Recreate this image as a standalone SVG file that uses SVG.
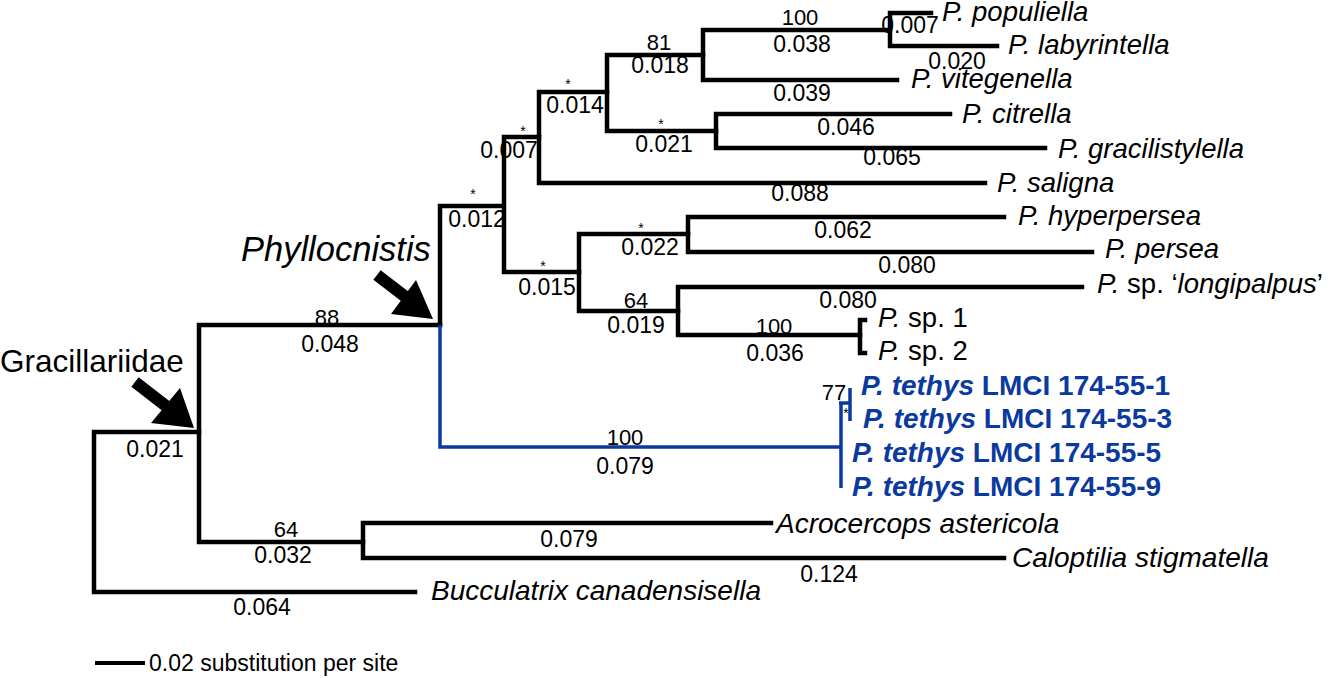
<svg xmlns="http://www.w3.org/2000/svg" width="1334" height="678" viewBox="0 0 1334 678">
<style>
text{font-family:"Liberation Sans",Arial,sans-serif;fill:#000}
.br{fill:none;stroke:#000;stroke-width:4.5;stroke-linejoin:miter;stroke-linecap:square}
.bb{fill:none;stroke:#0a3aa0;stroke-width:3.5;stroke-linecap:butt}
.sp{font-size:27.5px;font-style:italic}
.sb{font-size:28px;font-style:italic}
.n{font-style:normal}
.tt{font-size:28px;font-weight:bold;fill:#0a3aa0}
.tt tspan{fill:#0a3aa0}
.bl{font-size:23px;text-anchor:middle}
.su{font-size:22px;text-anchor:middle}
.st{font-size:14px;text-anchor:middle}
</style>
<g id="connectors">
<path class="br" d="M199 432 H94 V592 H415"/>
<path class="br" d="M440 325 H199 V542 H363"/>
<path class="br" d="M771 523 H363 V558 H1004"/>
<path class="br" d="M503 206 H440 V325"/>
<path class="bb" d="M440 325 V447 H841"/>
<path class="br" d="M539 137 H504 V272 H579"/>
<path class="br" d="M607 92 H539 V183 H985"/>
<path class="br" d="M703 55 H607 V131 H716"/>
<path class="br" d="M890 30 H703 V80 H897"/>
<path class="br" d="M931 13 H890 V46 H997"/>
<path class="br" d="M950 114 H716 V148 H1045"/>
<path class="br" d="M688 234 H579 V311 H678"/>
<path class="br" d="M1004 217 H688 V252 H1092"/>
<path class="br" d="M1082 287 H678 V335 H860"/>
<path class="br" d="M865 320 H860 V353 H865"/>
<path class="bb" d="M841 403 V488 M839 403 H850 M850 388 V421"/>
</g>
<g id="branch-labels">
<text class="su" x="800" y="25">100</text>
<text class="bl" x="802" y="52">0.038</text>
<text class="bl" x="910" y="33">0.007</text>
<text class="bl" x="957" y="69">0.020</text>
<text class="su" x="659" y="50">81</text>
<text class="bl" x="660" y="73">0.018</text>
<text class="bl" x="802" y="101">0.039</text>
<text class="st" x="568" y="89">*</text>
<text class="bl" x="575" y="113">0.014</text>
<text class="st" x="661" y="129">*</text>
<text class="bl" x="664" y="152">0.021</text>
<text class="st" x="523" y="136">*</text>
<text class="bl" x="509" y="158">0.007</text>
<text class="st" x="473" y="199">*</text>
<text class="bl" x="477" y="227">0.012</text>
<text class="bl" x="846" y="135">0.046</text>
<text class="bl" x="892" y="165">0.065</text>
<text class="bl" x="800" y="201">0.088</text>
<text class="st" x="641" y="233">*</text>
<text class="bl" x="650" y="255">0.022</text>
<text class="bl" x="843" y="238">0.062</text>
<text class="bl" x="907" y="273">0.080</text>
<text class="st" x="543" y="271">*</text>
<text class="bl" x="547" y="295">0.015</text>
<text class="su" x="636" y="308">64</text>
<text class="bl" x="636" y="333">0.019</text>
<text class="bl" x="848" y="308">0.080</text>
<text class="su" x="774" y="334">100</text>
<text class="bl" x="775" y="361">0.036</text>
<text class="su" x="834" y="400">77</text>
<text class="st" x="846" y="418">*</text>
<text class="su" x="625" y="445">100</text>
<text class="bl" x="625" y="474">0.079</text>
<text class="su" x="327" y="325">88</text>
<text class="bl" x="330" y="352">0.048</text>
<text class="bl" x="155" y="457">0.021</text>
<text class="su" x="286" y="537">64</text>
<text class="bl" x="283" y="563">0.032</text>
<text class="bl" x="262" y="615">0.064</text>
<text class="bl" x="569" y="547">0.079</text>
<text class="bl" x="829" y="582">0.124</text>
</g>
<g id="node-populiella"><text class="sp" x="942" y="21">P. populiella</text></g>
<g id="node-labyrintella"><text class="sp" x="1008" y="54">P. labyrintella</text></g>
<g id="node-vitegenella"><text class="sp" x="911" y="88">P. vitegenella</text></g>
<g id="node-citrella"><text class="sp" x="962" y="123">P. citrella</text></g>
<g id="node-gracilistylella"><text class="sp" x="1058" y="158">P. gracilistylella</text></g>
<g id="node-saligna"><text class="sp" x="997" y="192">P. saligna</text></g>
<g id="node-hyperpersea"><text class="sp" x="1018" y="225">P. hyperpersea</text></g>
<g id="node-persea"><text class="sp" x="1105" y="258">P. persea</text></g>
<g id="node-longipalpus"><text class="sp" x="1097" y="293">P.<tspan class="n"> sp. ‘</tspan>longipalpus<tspan class="n">’</tspan></text></g>
<g id="node-sp1"><text class="sp" x="878" y="327">P.<tspan class="n"> sp. 1</tspan></text></g>
<g id="node-sp2"><text class="sp" x="878" y="360">P.<tspan class="n"> sp. 2</tspan></text></g>
<g id="node-tethys1"><text class="tt" x="861" y="395"><tspan font-style="italic">P. tethys</tspan> LMCI 174-55-1</text></g>
<g id="node-tethys3"><text class="tt" x="863" y="428"><tspan font-style="italic">P. tethys</tspan> LMCI 174-55-3</text></g>
<g id="node-tethys5"><text class="tt" x="852" y="462"><tspan font-style="italic">P. tethys</tspan> LMCI 174-55-5</text></g>
<g id="node-tethys9"><text class="tt" x="852" y="496"><tspan font-style="italic">P. tethys</tspan> LMCI 174-55-9</text></g>
<g id="node-acrocercops"><text class="sb" x="776" y="533">Acrocercops astericola</text></g>
<g id="node-caloptilia"><text class="sb" x="1012" y="567">Caloptilia stigmatella</text></g>
<g id="node-bucculatrix"><text class="sb" x="431" y="600">Bucculatrix canadensisella</text></g>
<g id="annot-gracillariidae">
<text x="0" y="372" font-size="31.5">Gracillariidae</text>
<line x1="135" y1="382" x2="166" y2="406" stroke="#000" stroke-width="12"/>
<polygon points="151,423 180,388 194,428"/>
</g>
<g id="annot-phyllocnistis">
<text x="241" y="261" font-size="34.5" font-style="italic">Phyllocnistis</text>
<line x1="377" y1="275" x2="407" y2="298" stroke="#000" stroke-width="12"/>
<polygon points="391,314 416,280 433,319"/>
</g>
<g id="scale-bar">
<line x1="95" y1="663" x2="145" y2="663" stroke="#000" stroke-width="4"/>
<text x="149" y="671" font-size="23">0.02 substitution per site</text>
</g>
</svg>
